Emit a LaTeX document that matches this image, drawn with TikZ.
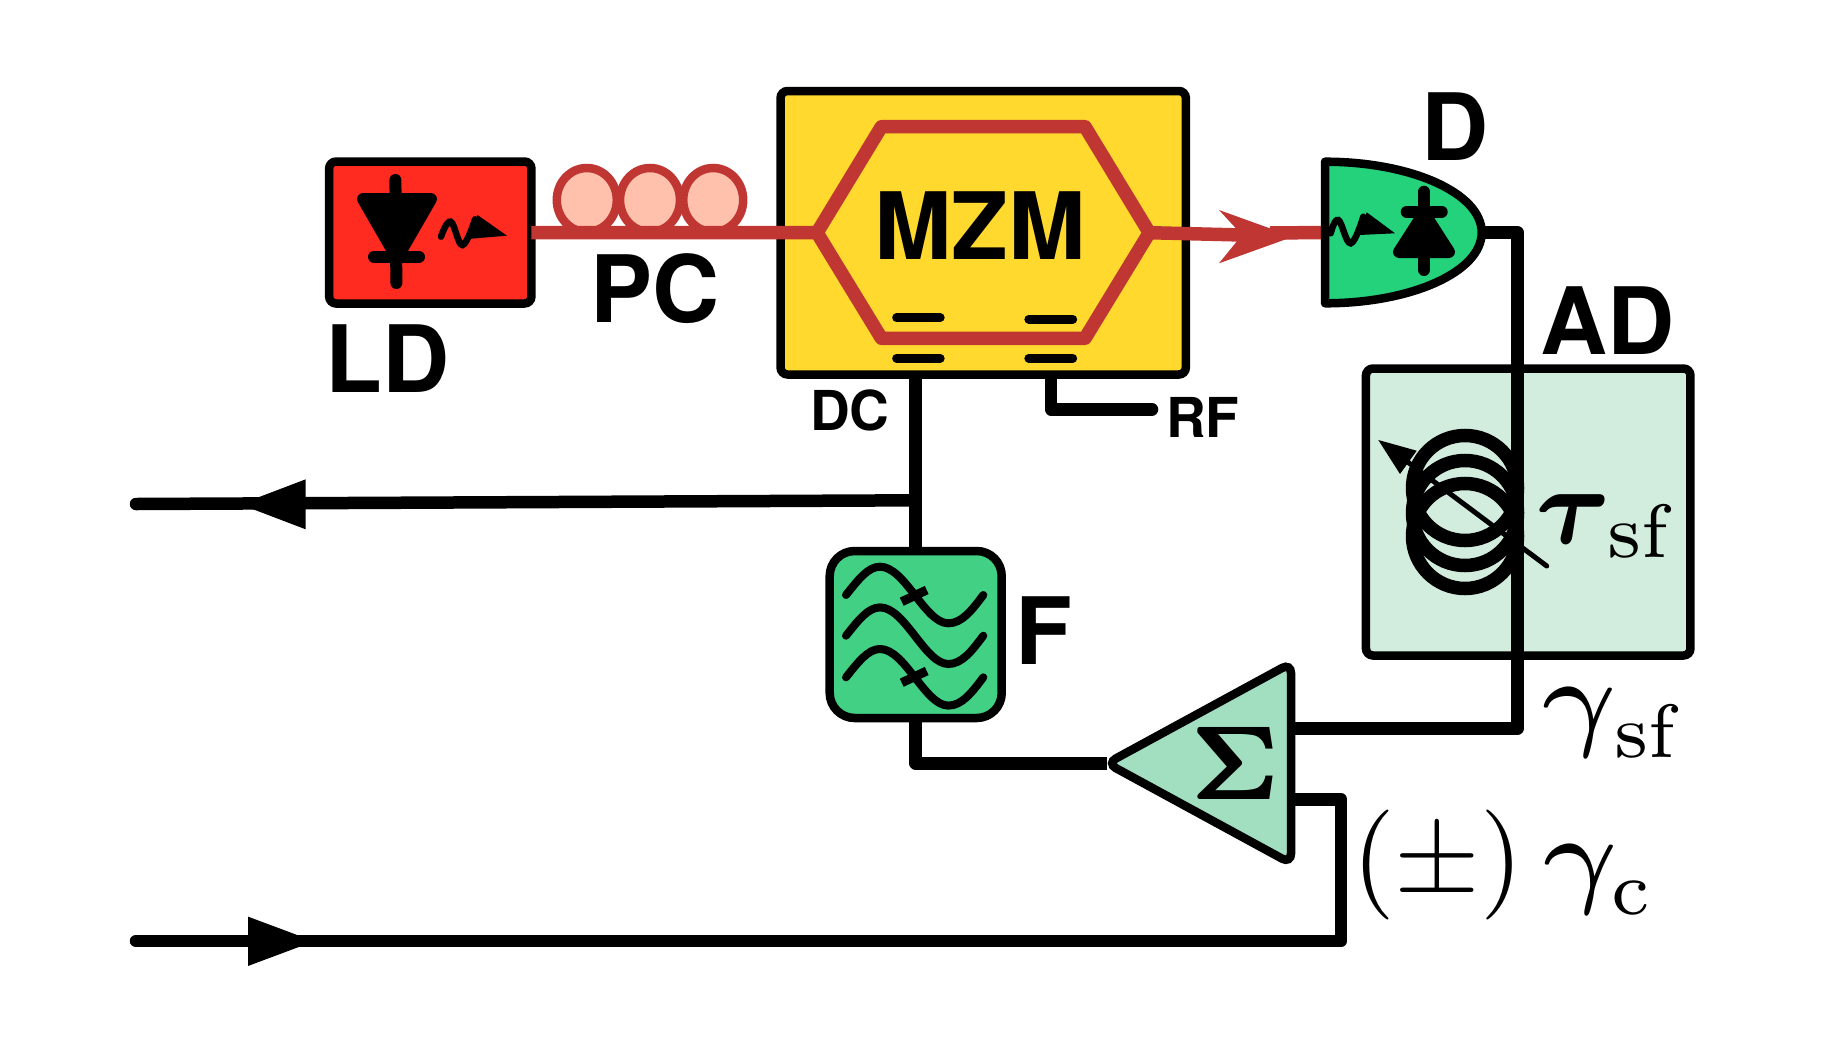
\documentclass[tikz,border=0pt]{standalone}
\usepackage[no-math]{fontspec}
\usepackage{graphicx}
\usepackage{amsmath}
\usetikzlibrary{shapes.geometric}
\newfontfamily\hv{TeX Gyre Heros}
\definecolor{cRed}{HTML}{FF2A20}
\definecolor{cYel}{HTML}{FFD92E}
\definecolor{cFib}{HTML}{BF3632}
\definecolor{cPink}{HTML}{FFC1AB}
\definecolor{cDet}{HTML}{24D27C}
\definecolor{cFil}{HTML}{42D084}
\definecolor{cAD}{HTML}{D2ECDE}
\definecolor{cSum}{HTML}{A2DEC0}
\tikzset{
  box/.style={draw=black,line width=8.5pt,rounded corners=7pt,inner sep=0pt,outer sep=0pt},
  wire/.style={draw=black,line width=12.5pt,line join=round},
  fiber/.style={draw=cFib,line width=13.5pt,line join=round},
  bigt/.style={anchor=base west,inner sep=0pt,outer sep=0pt,font=\hv\bfseries\fontsize{93}{93}\selectfont},
  smallt/.style={anchor=base west,inner sep=0pt,outer sep=0pt,font=\hv\bfseries\fontsize{55}{55}\selectfont},
  mathlab/.style={anchor=base west,inner sep=0pt,outer sep=0pt},
  icon/.style={draw=black,fill=black,line width=12pt,line join=round},
  stem/.style={draw=black,line width=12pt,line cap=round},
  squig/.style={draw=black,line width=6.5pt,line cap=round},
  wave/.style={draw=black,line width=8pt,line cap=round},
  tick/.style={draw=black,line width=9pt},
  elec/.style={draw=black,line width=8.5pt,line cap=round},
  coil/.style={draw=black,line width=13.5pt},
  ring/.style={draw=cFib,fill=cPink,line width=8.5pt,ellipse,minimum width=60pt,minimum height=64pt,inner sep=0pt,outer sep=0pt}
}
\newcommand{\sinewave}[1]{%
  \draw[wave] (846,595+#1) .. controls (858,580+#1) and (868,566.7+#1) .. (880,566.7+#1)
     .. controls (905,566.7+#1) and (925,623.3+#1) .. (948.3,623.3+#1)
     .. controls (962,623.3+#1) and (972,610+#1) .. (983.3,595+#1);}
\begin{document}
\begin{tikzpicture}[x=1pt,y=-1pt]
\useasboundingbox (0,0) rectangle (1822,1052);

% ---- boxes
\node[box,fill=cRed,minimum width=202.3pt,minimum height=142pt] (ld) at (430.3,232.5) {};
\node[box,fill=cYel,minimum width=405.3pt,minimum height=283.5pt] (mzm) at (983.2,232.75) {};
\node[box,fill=cAD,minimum width=324.5pt,minimum height=287pt] (ad) at (1528.2,512) {};
\node[box,fill=cFil,rounded corners=25pt,minimum width=172pt,minimum height=167pt] (fb) at (915.7,634.5) {};

% ---- polarization controller
\node[ring] (pc1) at (586.8,200) {};
\node[ring] (pc2) at (650,200) {};
\node[ring] (pc3) at (713.2,200) {};

% ---- MZM
\coordinate (hl) at (817,232.7);
\coordinate (hr) at (1149.3,232.7);
\draw[fiber] (hl) -- (881.4,126.7) -- (1085,126.7) -- (hr) -- (1085,338.3) -- (881.4,338.3) -- cycle;
\draw[fiber] (ld.east) -- (hl);
\draw[elec] (896.4,317.7) -- (940.4,317.7);
\draw[elec] (1028.6,319.3) -- (1072.9,319.3);
\draw[elec] (896.4,358.3) -- (940.4,358.3);
\draw[elec] (1028.6,358.3) -- (1072.9,358.3);
\node[bigt] (tmzm) at (874,259.5) {MZM};

% ---- filter waves
\sinewave{0}
\sinewave{40.7}
\sinewave{82.3}
\draw[tick] (901.7,601.7) -- (926.7,590);
\draw[tick] (901.7,682.7) -- (926.7,671);

% ---- detector
\coordinate (dl) at (1325,232.5);
\coordinate (dt) at (1325,161.7);
\coordinate (db) at (1325,303.3);
\coordinate (dr) at (1481.7,232.5);
\coordinate (notch) at (1242,235);
\draw[fiber] (hr) -- (notch);
\draw[fiber] (1270,233) -- (dl);
\fill[cFib] (1219,210) -- (1293,236.7) -- (1219,263.3) -- (notch) -- cycle;
\draw[box,fill=cDet,rounded corners=0pt,line join=round] (db) -- (dt) .. controls (1411,161.7) and (1481.7,193) .. (dr) .. controls (1481.7,272) and (1411,303.3) .. (db) -- cycle;

% ---- LD icon
\draw[icon] (363,199) -- (431,199) -- (397,258) -- cycle;
\draw[stem] (395.4,180) -- (396.4,283);
\draw[stem] (374,256.7) -- (419,256.7);
\draw[squig] plot[smooth,tension=.7] coordinates {(441,236.7) (450.7,221.7) (462.5,245) (475,219.3)};
\fill[black] (477.5,215) -- (507,235.7) -- (470.7,238.7) -- cycle;

% ---- detector icon
\draw[icon] (1424,213) -- (1449,252) -- (1399,252) -- cycle;
\draw[stem] (1424,191.7) -- (1424,270);
\draw[stem] (1406.7,211.7) -- (1441.7,211.7);
\draw[squig] plot[smooth,tension=.7] coordinates {(1330.7,233.3) (1338.3,220) (1350.7,243.3) (1363.3,216.7)};
\fill[black] (1366.7,212.3) -- (1395,233.3) -- (1359.3,235) -- cycle;

% ---- adjustable delay coil
\coordinate (sa) at (1378.3,440);
\coordinate (sb) at (1546.7,566);
\draw[line width=5pt,line cap=round] (1405,460) -- (sb);
\fill[black] (sa) -- (1416.7,450.7) -- (1400,474) -- cycle;
\node[coil,circle,minimum size=105pt,inner sep=0pt,outer sep=0pt] (c1) at (1465,488) {};
\node[coil,circle,minimum size=105pt,inner sep=0pt,outer sep=0pt] (c2) at (1465,513) {};
\node[coil,circle,minimum size=105pt,inner sep=0pt,outer sep=0pt] (c3) at (1465,536) {};

% ---- summing amplifier
\coordinate (sl) at (1107,763.3);
\coordinate (st) at (1291,663.1);
\coordinate (sb2) at (1291,863.5);
\draw[wire] (fb.south) -- (fb.south |- sl) -- (sl);
\draw[box,fill=cSum,rounded corners=10pt] (sl) -- (st) -- (sb2) -- cycle;
\node[inner sep=0pt,outer sep=0pt] (sig) at (1235,763.3) {\scalebox{17}[21]{$\scriptscriptstyle\boldsymbol{\Sigma}$}};

% ---- wires
\coordinate (jn) at (1517.7,232.5);
\coordinate (jb) at (1517.7,728.3);
\draw[wire] (dr) -- (jn) -- (jb) -- (st |- jb);
\coordinate (rfend) at (1152,409.3);
\draw[wire,line cap=round] (1051,380) -- (1051,409.3) -- (rfend);
\draw[wire] (fb.north) -- (fb.north |- mzm.south);
\coordinate (outa) at (136,504);
\coordinate (ja) at (915.7,500.3);
\draw[wire,line cap=round] (ja) -- (outa);
\fill[black] (305.7,479.3) -- (305.7,529.3) -- (240,504.3) -- cycle;
\coordinate (outb) at (136,941);
\coordinate (ka) at (1341,941);
\coordinate (kb) at (1341,799.3);
\draw[wire] (st |- kb) -- (kb) -- (ka) -- (outb);
\draw[wire,line cap=round] (200,941) -- (outb);
\fill[black] (248,916.6) -- (248,966) -- (314,941.3) -- cycle;

% ---- labels
\node[bigt] (tld) at (325.5,392) {LD};
\node[bigt] (tpc) at (590,322) {PC};
\node[bigt] (td) at (1421,160) {D};
\node[bigt] (tad) at (1540,354) {AD};
\node[bigt] (tf) at (1015,664) {F};
\node[smallt] (tdc) at (810,430) {DC};
\node[smallt] (trf) at (1166,437) {RF};
\node[mathlab] (ttau) at (1533,543) {\scalebox{18}[22]{$\scriptscriptstyle\boldsymbol{\tau}$}\hspace{-6pt}\raisebox{-14pt}{\scalebox{10.8}{$\scriptstyle\mathrm{sf}$}}};
\node[mathlab] (tgsf) at (1536,735) {\scalebox{21}[22]{$\scriptscriptstyle\gamma$}\hspace{-7pt}\raisebox{-22pt}{\scalebox{10.8}{$\scriptstyle\mathrm{sf}$}}};
\node[mathlab] (tgc) at (1352,892) {\scalebox{11}{$(\pm)$}\hspace{14pt}\scalebox{21}[22]{$\scriptscriptstyle\gamma$}\hspace{-11pt}\raisebox{-22pt}{\scalebox{10.8}{$\scriptstyle\mathrm{c}$}}};
\end{tikzpicture}
\end{document}
